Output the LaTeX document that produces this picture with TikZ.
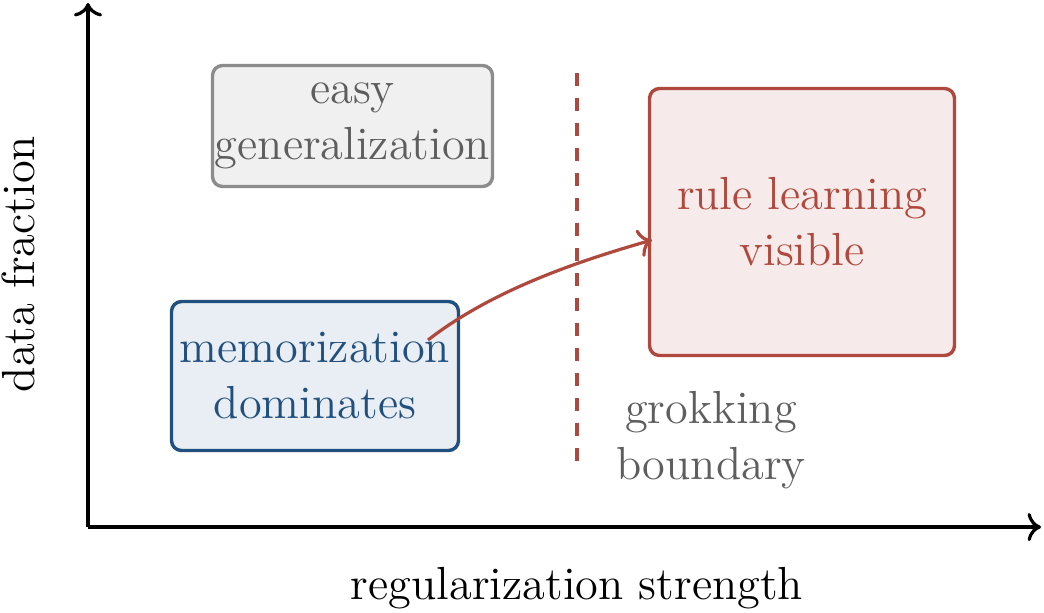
\documentclass[tikz,border=0pt]{standalone}
\usetikzlibrary{arrows.meta}
\definecolor{rred}{HTML}{B0493D}
\definecolor{rfill}{HTML}{F6EBEA}
\definecolor{bblue}{HTML}{22507E}
\definecolor{bfill}{HTML}{E8EEF3}
\definecolor{gborder}{HTML}{8C8C8C}
\definecolor{gfill}{HTML}{F0F0F0}
\definecolor{gtext}{HTML}{5E5E5E}
\tikzset{
  regionbox/.style={rounded corners=2.5pt, line width=0.85pt, inner sep=0pt, align=center},
  lbl/.style={inner sep=0pt, align=center},
}
\begin{document}
\begin{tikzpicture}[x=0.25pt,y=-0.25pt,font=\fontsize{11.6}{14}\selectfont]
\useasboundingbox (0,0) rectangle (1044,612);
% axes
\coordinate (o) at (88,527);
\coordinate (ytop) at (88,3);
\coordinate (xend) at (1041,527);
\draw[line width=0.8pt,->] (o) -- (ytop);
\draw[line width=0.8pt,->] (o) -- (xend);
\node[lbl, rotate=90] (ylab) at (18,264) {data fraction};
\node[lbl] (xlab) at (577,588) {regularization strength};
% boxes
\node[regionbox, draw=gborder, fill=gfill, text=gtext, minimum width=70pt, minimum height=30.25pt] (easy) at (352.5,126) {easy\\generalization};
\node[regionbox, draw=bblue, fill=bfill, text=bblue, minimum width=71.75pt, minimum height=37.25pt] (mem) at (315,376) {memorization\\dominates};
\node[regionbox, draw=rred, fill=rfill, text=rred, minimum width=76.25pt, minimum height=66.75pt] (rule) at (802,222) {rule learning\\visible};
% boundary
\coordinate (btop) at (577,73);
\coordinate (bbot) at (577,462);
\draw[rred, line width=0.8pt, dash pattern=on 3.25pt off 3pt] (btop) -- (bbot);
\node[lbl, text=gtext] (gb) at (711,440) {grokking\\boundary};
% arrow
\coordinate (astart) at (428,340);
\coordinate (aend) at (652,240);
\draw[rred, line width=0.8pt, ->] (astart) .. controls (491,291) and (575,262) .. (aend);
\end{tikzpicture}
\end{document}
